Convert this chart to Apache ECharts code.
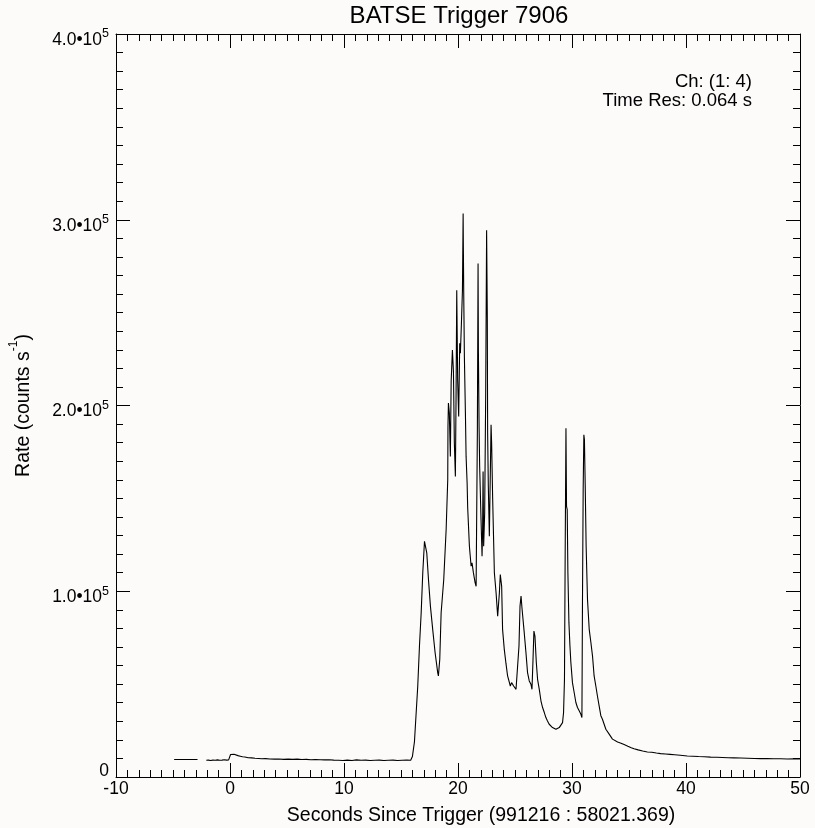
<!DOCTYPE html>
<html>
<head>
<meta charset="utf-8">
<script src="https://cdn.jsdelivr.net/npm/echarts@6/dist/echarts.min.js"></script>
<style>
html,body{margin:0;padding:0;background:#fdfbfa;}
#chart{width:815px;height:828px;}
</style>
</head>
<body>
<div id="chart"></div>
<script>
const titleText = 'BATSE Trigger 7906';
const xAxisTitle = 'Seconds Since Trigger (991216 : 58021.369)';
const annotations = ['Ch: (1: 4)', 'Time Res: 0.064 s'];
const xTickValues = [-10, 0, 10, 20, 30, 40, 50];
const yTickValues = [0, 100000, 200000, 300000, 400000];
const yTickMantissas = ['0', '1.0', '2.0', '3.0', '4.0'];

// pre-trigger (coarse) data segment
const preTimes = [-4.9, -2.85];
const preRates = [9400, 9400];

// 0.064 s data
const times = [
 -2.08,-1.9,-1.7,-1.5,-1.3,-1.1,-0.9,-0.7,-0.5,-0.3,-0.12,-0.05,0.05,0.2,0.35,0.5,0.7,0.9,1.1,1.3,
 1.6,1.9,2.2,2.5,2.8,3.1,3.5,3.9,4.3,4.7,5.1,5.5,5.9,6.3,6.7,7.1,7.5,7.9,8.3,8.7,
 9.1,9.5,9.9,10.3,10.7,11.1,11.5,11.9,12.3,12.7,13.1,13.5,13.9,14.3,14.7,15.1,15.5,15.85,16.0,16.18,
 16.47,16.62,16.77,16.91,17.06,17.15,17.26,17.41,17.58,17.78,17.99,18.22,18.28,18.40,18.52,18.75,18.96,19.10,19.12,19.16,
 19.24,19.33,19.40,19.51,19.60,19.68,19.77,19.83,19.89,19.97,20.06,20.15,20.21,20.30,20.39,20.45,20.47,20.50,20.56,20.65,
 20.71,20.80,20.85,21.00,21.15,21.23,21.35,21.50,21.59,21.70,21.76,21.79,21.85,21.90,22.02,22.11,22.16,22.20,22.25,22.34,
 22.43,22.51,22.57,22.60,22.66,22.75,22.90,22.95,23.04,23.19,23.34,23.48,23.63,23.71,23.83,23.91,24.06,24.21,24.35,24.59,
 24.70,24.88,25.09,25.23,25.35,25.44,25.53,25.61,25.70,25.81,25.96,26.10,26.25,26.40,26.49,26.58,26.66,26.75,26.87,26.98,
 27.13,27.28,27.42,27.57,27.71,27.85,28.00,28.15,28.29,28.44,28.59,28.73,28.88,29.03,29.17,29.26,29.34,29.40,29.47,29.52,
 29.58,29.64,29.73,29.82,29.90,30.04,30.19,30.34,30.48,30.63,30.78,30.87,30.92,30.98,31.04,31.09,31.16,31.24,31.36,31.51,
 31.66,31.80,31.94,32.09,32.23,32.38,32.53,32.67,32.82,32.97,33.11,33.26,33.41,33.55,33.70,34.0,34.3,34.57,34.9,35.2,
 35.44,35.8,36.2,36.61,37.0,37.4,37.78,38.2,38.6,39.0,39.5,40.11,40.6,41.1,41.6,42.16,42.7,43.2,43.7,44.2,
 44.8,45.4,46.0,46.54,47.1,47.7,48.29,48.9,49.5,50.0
];
const rates = [
 9000,9100,8900,9100,9000,9200,9000,9100,9300,9100,9200,10400,12100,11900,12200,11800,11500,11200,10900,10800,
 10400,10300,10100,10000,9800,9900,9700,9600,9700,9500,9600,9500,9600,9400,9500,9300,9400,9300,9200,9300,
 9100,9000,8900,9100,8900,9200,9000,9100,8900,9000,9100,8900,9000,9100,8900,9000,9100,9000,11000,19000,
 49000,70500,88400,110000,126900,127000,120700,106300,92000,79500,67000,56200,54400,63300,88400,106300,133200,160000,188700,201300,
 195900,172600,212900,229900,218300,179800,161800,204800,262100,213800,194100,233500,228100,244300,262100,303400,285400,262000,226300,195900,
 172600,158300,145000,124200,113500,115300,110000,104600,102700,187000,276500,229000,188700,167200,138600,118800,133200,164500,124200,142200,
 206600,294400,247800,185100,156500,129600,189600,179800,150000,110000,99200,86600,99200,109000,102700,79500,68700,61000,54400,49000,
 50800,49000,47200,46300,70500,92000,97400,91100,91100,77700,67000,56200,51700,49900,47200,63300,78600,75900,61600,52600,
 47200,40900,37400,34700,32000,30200,28400,27900,26600,26100,25700,26100,26600,27500,29300,34700,52600,118800,187800,145700,
 143900,110000,83100,70500,61600,50800,45500,40100,37400,35600,33800,32000,95600,154700,184200,181600,156500,124200,95600,79500,
 72300,65100,54400,49000,43600,38300,33000,31100,28400,25700,24800,23100,22100,20400,19400,18800,18200,17500,16600,15800,
 15200,14600,14000,13500,13300,12900,12600,12400,12200,12000,11700,11300,11200,11000,10900,10700,10600,10500,10400,10300,
 10200,10100,10000,9900,10000,9800,9800,9700,9800,9700
];

const FONT = 'Liberation Sans';
const chart = echarts.init(document.getElementById('chart'), null, {renderer: 'canvas'});

const mainData = times.map((t, i) => [t, rates[i]]);
const preData = preTimes.map((t, i) => [t, preRates[i]]);

function yLabel(v) {
  const idx = yTickValues.indexOf(v);
  const m = idx >= 0 ? yTickMantissas[idx] : String(v);
  if (v === 0) return '{z|' + m + '}';
  return '{a|' + m + '•10}{s|5}';
}

const tickCommon = {
  axisLine: {show: true, onZero: false, lineStyle: {color: '#000', width: 1}},
  axisTick: {show: true, inside: true, length: 14, lineStyle: {color: '#000', width: 1}},
  minorTick: {show: true, splitNumber: 10, length: 7, lineStyle: {color: '#000', width: 1}},
  splitLine: {show: false},
  minorSplitLine: {show: false}
};

const option = {
  backgroundColor: '#fdfbfa',
  animation: false,
  textStyle: {fontFamily: FONT},
  grid: {left: 116, right: 15, top: 34, bottom: 51, containLabel: false},
  xAxis: [
    Object.assign({
      type: 'value', min: -10, max: 50, interval: 10, position: 'bottom',
      axisLabel: {
        show: true, margin: 3, color: '#000', fontFamily: FONT, fontSize: 17.5,
        showMinLabel: true, showMaxLabel: true,
        formatter: v => xTickValues.indexOf(v) >= 0 ? String(v) : ''
      }
    }, tickCommon),
    Object.assign({
      type: 'value', min: -10, max: 50, interval: 10, position: 'top',
      axisLabel: {show: false}
    }, tickCommon)
  ],
  yAxis: [
    Object.assign({
      type: 'value', min: 0, max: 400000, interval: 100000, position: 'left',
      name: '{n|Rate (counts s}{u|-1}{n|)}',
      nameLocation: 'middle', nameRotate: 90, nameGap: 82,
      nameTextStyle: {
        color: '#000', fontFamily: FONT,
        rich: {
          n: {fontSize: 19.5, fontFamily: FONT, color: '#000', padding: [6, 0, 0, 0]},
          u: {fontSize: 12, fontFamily: FONT, color: '#000', verticalAlign: 'top'}
        }
      },
      axisLabel: {
        show: true, margin: 7, color: '#000', fontFamily: FONT,
        formatter: yLabel,
        rich: {
          a: {fontSize: 17.5, fontFamily: FONT, color: '#000', lineHeight: 17, padding: [12, 0, 0, 0]},
          s: {fontSize: 12.5, fontFamily: FONT, color: '#000', lineHeight: 12, padding: [2, 0, 0, 0], verticalAlign: 'top'},
          z: {fontSize: 17.5, fontFamily: FONT, color: '#000', lineHeight: 17, padding: [0, 0, 12, 0]}
        }
      }
    }, tickCommon),
    Object.assign({
      type: 'value', min: 0, max: 400000, interval: 100000, position: 'right',
      axisLabel: {show: false}
    }, tickCommon)
  ],
  graphic: [
    {type: 'text', x: 459, y: 16, style: {text: titleText, fontFamily: FONT, fontSize: 24, fill: '#000', textAlign: 'center', textVerticalAlign: 'middle'}},
    {type: 'text', x: 481, y: 816, style: {text: xAxisTitle, fontFamily: FONT, fontSize: 19.5, fill: '#000', textAlign: 'center', textVerticalAlign: 'middle'}},
    {type: 'text', x: 752, y: 82, style: {text: annotations[0], fontFamily: FONT, fontSize: 18.5, fill: '#000', textAlign: 'right', textVerticalAlign: 'middle'}},
    {type: 'text', x: 752, y: 101, style: {text: annotations[1], fontFamily: FONT, fontSize: 18.5, fill: '#000', textAlign: 'right', textVerticalAlign: 'middle'}}
  ],
  series: [
    {type: 'line', xAxisIndex: 0, yAxisIndex: 0, data: preData, showSymbol: false, symbol: 'none',
     lineStyle: {color: '#000', width: 1.1}, silent: true},
    {type: 'line', xAxisIndex: 0, yAxisIndex: 0, data: mainData, showSymbol: false, symbol: 'none',
     lineStyle: {color: '#000', width: 1.1}, silent: true, sampling: null}
  ]
};
chart.setOption(option);
</script>
</body>
</html>
